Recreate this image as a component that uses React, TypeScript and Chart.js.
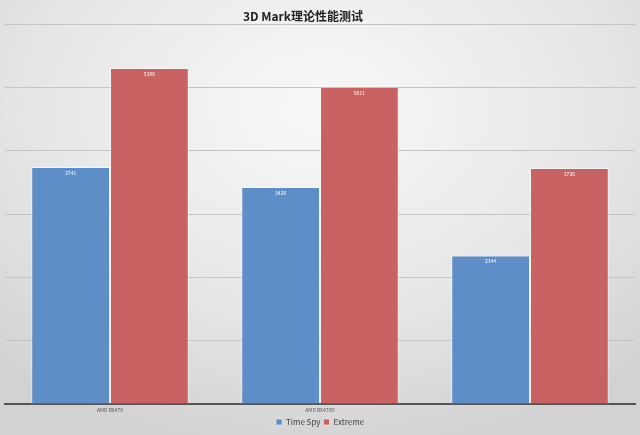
import { useEffect, useRef } from 'react';
import { Chart, registerables } from 'chart.js';
import type { ChartConfiguration, Plugin } from 'chart.js';

Chart.register(...registerables);

const categories = ['AMD RX470', 'AMD RX470D', ''];
const timeSpy = [3741, 3426, 2344];
const extreme = [5306, 5011, 3726];

const TITLE = '3D Mark理论性能测试';
const FONT = '"Noto Sans CJK SC", "Noto Sans", sans-serif';

// white value labels just inside the top of each bar
const valueLabels: Plugin<'bar'> = {
  id: 'valueLabels',
  afterDatasetsDraw(chart) {
    const { ctx } = chart;
    ctx.save();
    ctx.fillStyle = '#ffffff';
    ctx.font = `5px ${FONT}`;
    ctx.textAlign = 'center';
    ctx.textBaseline = 'middle';
    chart.data.datasets.forEach((ds, i) => {
      chart.getDatasetMeta(i).data.forEach((bar, j) => {
        ctx.fillText(String(ds.data[j]), bar.x, bar.y + 6);
      });
    });
    ctx.restore();
  },
};

// tiny category names under the axis line, placed from the x scale
const categoryLabels: Plugin<'bar'> = {
  id: 'categoryLabels',
  afterDraw(chart) {
    const { ctx } = chart;
    const x = chart.scales.x;
    ctx.save();
    ctx.fillStyle = '#555555';
    ctx.font = `5px ${FONT}`;
    ctx.textAlign = 'center';
    ctx.textBaseline = 'middle';
    categories.forEach((c, i) => {
      ctx.fillText(c, x.getPixelForTick(i), chart.chartArea.bottom + 6);
    });
    ctx.restore();
  },
};

const titleText: Plugin<'bar'> = {
  id: 'titleText',
  afterDraw(chart) {
    const { ctx } = chart;
    ctx.save();
    ctx.fillStyle = '#222222';
    ctx.font = `bold 12px ${FONT}`;
    ctx.textAlign = 'center';
    ctx.textBaseline = 'middle';
    ctx.fillText(TITLE, 303, 16);
    ctx.restore();
  },
};

export default function App() {
  const canvasRef = useRef<HTMLCanvasElement>(null);

  useEffect(() => {
    const canvas = canvasRef.current;
    if (!canvas) return;

    const config: ChartConfiguration<'bar'> = {
      type: 'bar',
      data: {
        labels: categories,
        datasets: [
          {
            label: 'Time Spy',
            data: timeSpy,
            backgroundColor: '#5e8ec7',
            borderColor: 'rgba(255,255,255,0.5)',
            borderWidth: 1,
            categoryPercentage: 0.75,
            barPercentage: 1,
          },
          {
            label: 'Extreme',
            data: extreme,
            backgroundColor: '#c96262',
            borderColor: 'rgba(255,255,255,0.5)',
            borderWidth: 1,
            categoryPercentage: 0.75,
            barPercentage: 1,
          },
        ],
      },
      options: {
        animation: false,
        responsive: true,
        maintainAspectRatio: false,
        layout: { padding: { top: 24, left: 5, right: 5, bottom: 0 } },
        scales: {
          x: {
            grid: { display: false },
            border: { display: true, color: '#555555', width: 2 },
            ticks: { display: false },
            afterFit(axis) {
              axis.height = 11;
            },
          },
          y: {
            min: 0,
            max: 6000,
            grid: { color: '#c4c4c4', drawTicks: false },
            border: { display: false },
            ticks: { display: false, stepSize: 1000 },
            afterFit(axis) {
              axis.width = 0;
            },
          },
        },
        plugins: {
          title: { display: false },
          tooltip: { enabled: false },
          legend: {
            position: 'bottom',
            maxHeight: 20,
            labels: {
              boxWidth: 6,
              boxHeight: 6,
              padding: 3,
              color: '#444444',
              font: { size: 8, family: FONT },
            },
          },
        },
      },
      plugins: [valueLabels, categoryLabels, titleText],
    };

    const chart = new Chart(canvas, config);
    return () => chart.destroy();
  }, []);

  return (
    <div
      style={{
        position: 'fixed',
        left: 0,
        top: 0,
        width: 640,
        height: 435,
        background:
          'radial-gradient(ellipse 75% 80% at 50% 25%, #f8f8f8 0%, #e8e8e8 55%, #d2d2d2 100%)',
      }}
    >
      <canvas ref={canvasRef} />
    </div>
  );
}
